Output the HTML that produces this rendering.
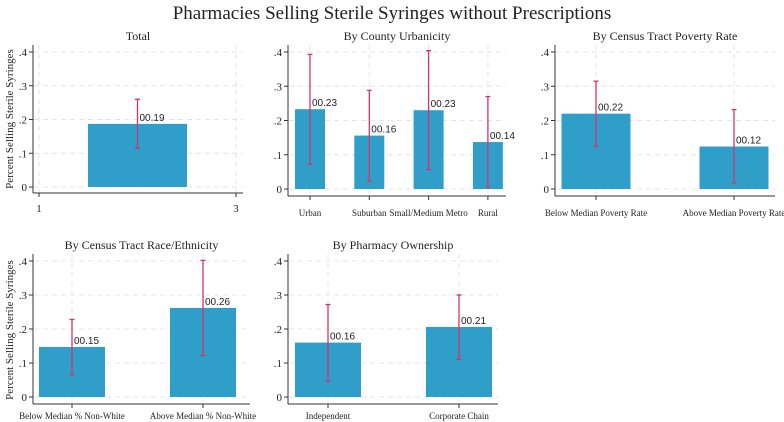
<!DOCTYPE html>
<html><head><meta charset="utf-8"><style>
body{margin:0;background:#fff;}
svg{display:block;font-family:"Liberation Serif",serif;}
</style></head><body>
<svg id="c" width="784" height="422">
<text x="392" y="19" font-size="19" text-anchor="middle" fill="#222">Pharmacies Selling Sterile Syringes without Prescriptions</text>
<text transform="translate(13,119) rotate(-90)" font-size="11" text-anchor="middle" fill="#222">Percent Selling Sterile Syringes</text>
<text transform="translate(13,330) rotate(-90)" font-size="11" text-anchor="middle" fill="#222">Percent Selling Sterile Syringes</text>
</svg>
<script>
const totalCats=["Total"];
const totalVals=[0.187];
const totalLo=[0.115];
const totalHi=[0.26];
const urbCats=["Urban","Suburban","Small/Medium Metro","Rural"];
const urbVals=[0.233,0.156,0.23,0.137];
const urbLo=[0.072,0.023,0.057,0.005];
const urbHi=[0.393,0.288,0.404,0.27];
const povCats=["Below Median Poverty Rate","Above Median Poverty Rate"];
const povVals=[0.22,0.124];
const povLo=[0.125,0.018];
const povHi=[0.315,0.232];
const raceCats=["Below Median % Non-White","Above Median % Non-White"];
const raceVals=[0.147,0.262];
const raceLo=[0.065,0.122];
const raceHi=[0.228,0.402];
const ownCats=["Independent","Corporate Chain"];
const ownVals=[0.16,0.206];
const ownLo=[0.047,0.11];
const ownHi=[0.272,0.30];
const yTicks=[0,0.1,0.2,0.3,0.4];
const yTickLabels=["0",".1",".2",".3",".4"];

const NS="http://www.w3.org/2000/svg";
const svg=document.getElementById('c');
function mk(tag,attrs,parent){const e=document.createElementNS(NS,tag);for(const k in attrs)e.setAttribute(k,attrs[k]);(parent||svg).appendChild(e);return e;}

function panel(o){
  const g=mk('g',{});
  
  
  const ys=v=>o.y0-(o.y0-o.y4)*v/0.4;
  const xs=i=>o.c0+i*o.step;
  const t=mk('text',{x:(o.left+o.right)/2,y:o.top-5,'font-size':12,'text-anchor':'middle',fill:'#222'},g);
  t.textContent=o.title;
  
  
  yTicks.forEach((v,k)=>{
    mk('line',{x1:o.left+1,x2:o.right,y1:ys(v),y2:ys(v),stroke:'#e4e4e4','stroke-dasharray':'5,4','stroke-width':1},g);
    mk('line',{x1:o.left-4,x2:o.left,y1:ys(v),y2:ys(v),stroke:'#333'},g);
    const l=mk('text',{x:o.left-6,y:ys(v)+4,'font-size':11,'text-anchor':'end',fill:'#222'},g);
    l.textContent=yTickLabels[k];
    
    
  });
  const vx=o.vgrid||o.cats.map((c,i)=>xs(i));
  vx.forEach(x=>{
    mk('line',{x1:x,x2:x,y1:o.top,y2:o.bottom,stroke:'#e4e4e4','stroke-dasharray':'5,4'},g);
    mk('line',{x1:x,x2:x,y1:o.bottom,y2:o.bottom+4,stroke:'#333'},g);
  });
  mk('line',{x1:o.left,x2:o.left,y1:o.top,y2:o.bottom,stroke:'#333'},g);
  mk('line',{x1:o.left,x2:o.right,y1:o.bottom,y2:o.bottom,stroke:'#333'},g);
  o.cats.forEach((c,i)=>{
    const cx=o.barX?o.barX:xs(i);
    const b=mk('rect',{x:cx-o.bw/2,y:ys(o.vals[i]),width:o.bw,height:ys(0)-ys(o.vals[i]),fill:'#2f9fc9'},g);
    
    
    const e=mk('g',{stroke:'#d6336c','stroke-width':1.3},g);
    
    
    mk('line',{x1:cx,x2:cx,y1:ys(o.lo[i]),y2:ys(o.hi[i])},e);
    mk('line',{x1:cx-2.5,x2:cx+2.5,y1:ys(o.lo[i]),y2:ys(o.lo[i])},e);
    mk('line',{x1:cx-2.5,x2:cx+2.5,y1:ys(o.hi[i]),y2:ys(o.hi[i])},e);
    const vl=mk('text',{x:cx+2,y:ys(o.vals[i])-3,'font-size':10,fill:'#222','font-family':'Liberation Sans, sans-serif'},g);
    vl.textContent='0'+o.vals[i].toFixed(2);
    
    
    if(!o.xlabels){
      const xl=mk('text',{x:cx,y:o.bottom+o.lblOff,'font-size':9,'text-anchor':'middle',fill:'#222'},g);
      xl.textContent=c;
      
      
    }
  });
  if(o.xlabels){o.xlabels.forEach((s,k)=>{
    const xl=mk('text',{x:o.vgrid[k],y:o.bottom+19,'font-size':11,'text-anchor':'middle',fill:'#222'},g);
    xl.textContent=s;
    
    
  });}
}
panel({name:'panel-total',title:'Total',cats:totalCats,vals:totalVals,lo:totalLo,hi:totalHi,left:33,right:243,top:45,bottom:193,y0:187,y4:52,c0:137.5,step:0,bw:99,vgrid:[39,236],xlabels:['1','3'],barX:137.5,lblOff:18});
panel({name:'panel-urbanicity',title:'By County Urbanicity',cats:urbCats,vals:urbVals,lo:urbLo,hi:urbHi,left:288,right:506,top:45,bottom:196,y0:189,y4:52,c0:310,step:59.3,bw:30,lblOff:20});
panel({name:'panel-poverty',title:'By Census Tract Poverty Rate',cats:povCats,vals:povVals,lo:povLo,hi:povHi,left:555,right:775,top:45,bottom:196,y0:189,y4:52,c0:596,step:138,bw:69,lblOff:20});
panel({name:'panel-race',title:'By Census Tract Race/Ethnicity',cats:raceCats,vals:raceVals,lo:raceLo,hi:raceHi,left:33,right:250,top:254,bottom:404,y0:397,y4:261,c0:72,step:131,bw:66,lblOff:15});
panel({name:'panel-ownership',title:'By Pharmacy Ownership',cats:ownCats,vals:ownVals,lo:ownLo,hi:ownHi,left:288,right:498,top:254,bottom:404,y0:397,y4:261,c0:328,step:131,bw:66,lblOff:15});
</script>
</body></html>
